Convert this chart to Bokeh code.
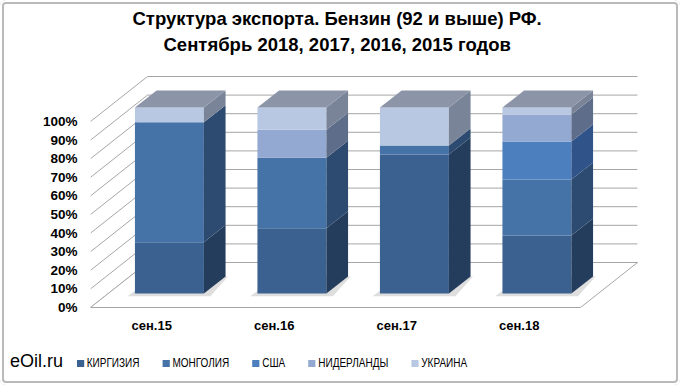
import numpy as np
from bokeh.plotting import figure
from bokeh.layouts import column
from bokeh.models import Range1d, FixedTicker, ColumnDataSource, Title, Div
from bokeh.embed import file_html
from bokeh.resources import INLINE

# ---------------- data ----------------
categories = ["сен.15", "сен.16", "сен.17", "сен.18"]
series_names = ["КИРГИЗИЯ", "МОНГОЛИЯ", "США", "НИДЕРЛАНДЫ", "УКРАИНА"]
kyrgyzstan = [27.6, 35.1, 74.7, 31.2]
mongolia = [64.5, 37.9, 4.9, 30.1]
usa = [0.0, 0.0, 0.0, 20.4]
netherlands = [0.0, 15.0, 0.0, 14.5]
ukraine = [7.9, 12.0, 20.4, 3.8]
y_ticks = [0, 10, 20, 30, 40, 50, 60, 70, 80, 90, 100]
title_line1 = "Структура экспорта. Бензин (92 и выше) РФ."
title_line2 = "Сентябрь 2018, 2017, 2016, 2015 годов"
brand = "eOil.ru"

# ---------------- styles ----------------
front_colors = ["#3a6190", "#4572a7", "#4b7fbe", "#93a9d1", "#b9c8e2"]
side_colors = ["#253d5c", "#2d4b70", "#30548a", "#5e6d8a", "#798498"]
top_color = "#8c95a8"
grid_color = "#a6a6a6"
FONT = "Liberation Sans"

W, H = 680, 385
LEG_H = 40
H1 = H - LEG_H
FRAME_L, FRAME_R, FRAME_T, FRAME_B = 90, 650, 62, 312
X0_PX, Y0_PX = 90, 307          # pixel of x=0 / y=0 on the front plane
PX_X, PX_Y = 122.5, 1.86        # pixels per data unit
DXU, DYU = 57 / PX_X, 45 / PX_Y  # full depth vector in data units
BAR_W = 0.563
BAR_D0, BAR_D1 = 0.31, 0.69

x_range = Range1d((FRAME_L - X0_PX) / PX_X, (FRAME_R - X0_PX) / PX_X)
y_range = Range1d((Y0_PX - FRAME_B) / PX_Y, (Y0_PX - FRAME_T) / PX_Y)

p = figure(width=W, height=H1, x_range=x_range, y_range=y_range,
           output_backend="svg", toolbar_location=None, title=None,
           min_border_left=FRAME_L, min_border_right=W - FRAME_R,
           min_border_top=FRAME_T, min_border_bottom=H1 - FRAME_B)
p.xgrid.visible = False
p.ygrid.visible = False
p.outline_line_color = None
p.background_fill_alpha = 0
p.border_fill_alpha = 0

n = len(categories)

# walls
p.multi_line(xs=[[DXU, n + DXU] for t in y_ticks],
             ys=[[t + DYU, t + DYU] for t in y_ticks],
             line_color=grid_color, line_width=1)
p.multi_line(xs=[[0, DXU] for t in y_ticks],
             ys=[[t, t + DYU] for t in y_ticks],
             line_color=grid_color, line_width=1)
p.patch(x=[0, n, n + DXU, DXU], y=[0, 0, DYU, DYU],
        fill_color="white", line_color=grid_color, line_width=1)

# bars
values = np.array([kyrgyzstan, mongolia, usa, netherlands, ukraine], dtype=float)
cum_top = np.cumsum(values, axis=0)
cum_bot = cum_top - values
idx = np.arange(n, dtype=float)
left = idx + (1 - BAR_W) / 2 + BAR_D0 * DXU
right = left + BAR_W
oy = BAR_D0 * DYU
ddx = (BAR_D1 - BAR_D0) * DXU
ddy = (BAR_D1 - BAR_D0) * DYU

# soft shadow on the floor
p.patches(xs=[[l - 0.06, r + ddx * 0.3, r + ddx + 0.02, l + ddx - 0.02] for l, r in zip(left, right)],
          ys=[[oy - 1.5, oy - 1.5, oy + ddy, oy + ddy] for _ in left],
          fill_color="#c8c8c8", fill_alpha=0.6, line_color=None)

for s in range(len(series_names)):
    b = cum_bot[s] + oy
    t = cum_top[s] + oy
    src = ColumnDataSource(dict(left=left, right=right, bottom=b, top=t))
    p.quad(left="left", right="right", bottom="bottom", top="top", source=src,
           fill_color=front_colors[s], line_color=None)
    p.patches(xs=[[x1, x1 + ddx, x1 + ddx, x1] for x1 in right],
              ys=[[bb, bb + ddy, tt + ddy, tt] for bb, tt in zip(b, t)],
              fill_color=side_colors[s], line_color=None)

top_total = cum_top[-1] + oy
p.patches(xs=[[l, r, r + ddx, l + ddx] for l, r in zip(left, right)],
          ys=[[T, T, T + ddy, T + ddy] for T in top_total],
          fill_color=top_color, line_color=None)

# axes
p.xaxis.ticker = FixedTicker(ticks=[i + 0.5 for i in range(n)])
p.xaxis.major_label_overrides = {i + 0.5: c for i, c in enumerate(categories)}
p.yaxis.ticker = FixedTicker(ticks=y_ticks)
p.yaxis.major_label_overrides = {t: f"{t}%" for t in y_ticks}
for ax in (p.xaxis[0], p.yaxis[0]):
    ax.axis_line_color = None
    ax.major_tick_line_color = None
    ax.minor_tick_line_color = None
    ax.major_tick_out = 0
    ax.major_tick_in = 0
    ax.major_label_text_font = FONT
    ax.major_label_text_font_style = "bold"
    ax.major_label_text_color = "black"
p.xaxis.major_label_text_font_size = "13px"
p.xaxis.major_label_standoff = 5
p.yaxis.major_label_text_font_size = "13.5px"
p.yaxis.major_label_standoff = 13

# title: two lines (nearest to the frame first)
for txt, so, off in ((title_line2, 15, 73), (title_line1, -9, 42)):
    p.add_layout(Title(text=txt, align="left", text_font=FONT, text_font_style="bold",
                       text_font_size="18.5px", text_color="black", offset=off, standoff=so), "above")

# legend strip (HTML), narrow labels like the original
item_html = "".join(
    f'<span style="display:flex;align-items:center;margin-right:29px;white-space:nowrap;">'
    f'<span style="display:inline-block;width:8.5px;height:7px;background:{c};margin-right:3.7px;"></span>'
    f'{nm}</span>'
    for nm, c in zip(series_names, front_colors))
legend_html = (
    f'<div style="position:relative;width:{W}px;height:{LEG_H}px;font-family:\'{FONT}\',sans-serif;color:black;">'
    f'<span style="position:absolute;left:10px;top:6px;font-size:18px;line-height:20px;">{brand}</span>'
    f'<div style="position:absolute;left:77px;top:11px;display:flex;align-items:center;'
    f'font-size:12.5px;line-height:14px;transform:scaleX(0.8);transform-origin:0 0;">{item_html}</div>'
    f'</div>')
legend_div = Div(text=legend_html, width=W, height=LEG_H, margin=0)

layout = column(p, legend_div, spacing=0)
layout.styles = {"border-radius": "6px", "background": "white",
                 "box-shadow": "inset 0 0 0 2px #ffffff, inset 0 0 0 4px #bababa"}

open("out.html", "w").write(file_html(layout, INLINE))
